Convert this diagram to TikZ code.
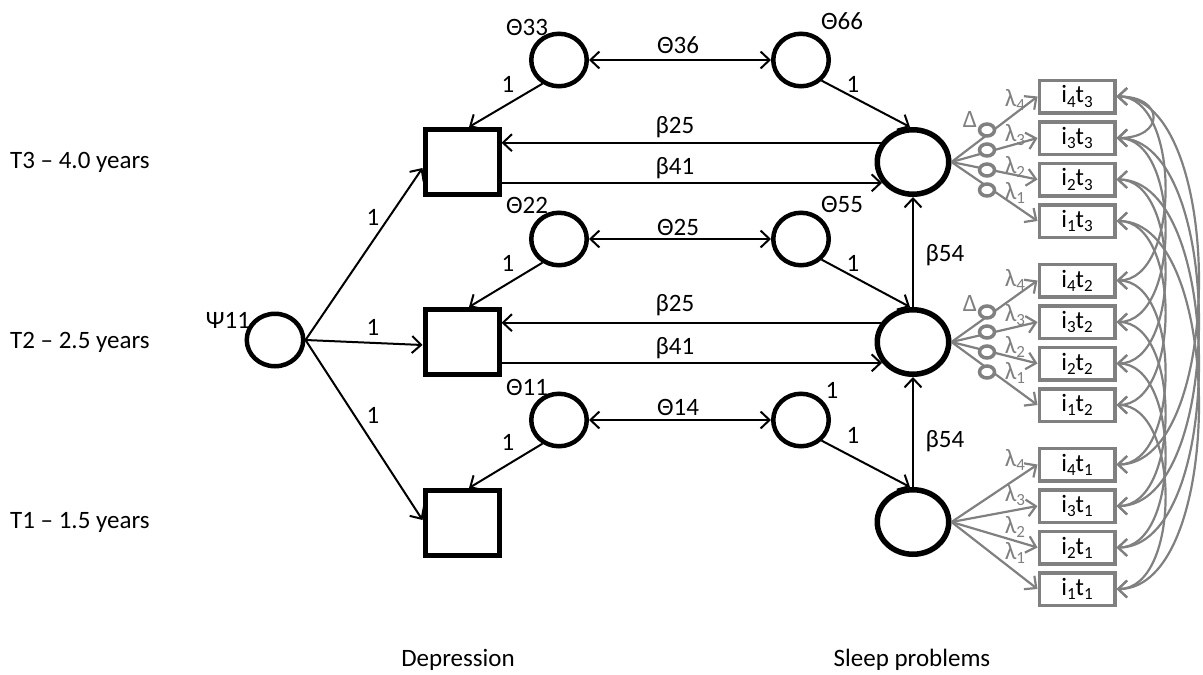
\documentclass[tikz,border=0pt]{standalone}
\usepackage{fontspec}
\setmainfont{Carlito}
\usetikzlibrary{arrows.meta,shapes.geometric,calc}
\newcommand\lowsub[1]{\raisebox{-0.35ex}{\fontsize{17}{17}\selectfont #1}}
\definecolor{ig}{RGB}{128,128,128}
\begin{document}
\begin{tikzpicture}[x=1pt,y=-1pt,
  font=\fontsize{25}{29}\selectfont,
  >={Straight Barb[length=9pt,width=17pt]},
  every node/.style={inner sep=0pt},
  obs/.style={draw, line width=5pt, minimum width=74pt, minimum height=65pt},
  lat/.style={draw, ellipse, line width=5.5pt, minimum width=71.5pt, minimum height=64.5pt},
  res/.style={draw, ellipse, line width=4.5pt, minimum width=55.5pt, minimum height=52.5pt},
  item/.style={draw=ig, line width=3.5pt, minimum width=75.5pt, minimum height=32.5pt, text=black},
  ring/.style={draw=ig, fill=white, ellipse, line width=3.5pt, minimum width=15pt, minimum height=12pt},
  conn/.style={draw, line width=2pt, ->},
  dconn/.style={draw, line width=2pt, <->},
  gconn/.style={draw=ig, line width=2.2pt, ->},
  garc/.style={draw=ig, line width=2.2pt, <->},
  lab/.style={text=black},
  glab/.style={text=ig}
]
\useasboundingbox (0,0) rectangle (1203,675);

% depression observed
\node[obs] (d3) at (462,162) {};
\node[obs] (d2) at (462,342) {};
\node[obs] (d1) at (462,523) {};
% psi
\node[res, minimum width=56.5pt] (psi) at (275,340) {};
% residuals
\node[res] (e3) at (559,60) {};
\node[res] (e2) at (559,239) {};
\node[res] (e1) at (559,420) {};
\node[res] (z3) at (801,60) {};
\node[res] (z2) at (801,239) {};
\node[res] (z1) at (801,420) {};
% sleep latent
\node[lat] (s3) at (913,162) {};
\node[lat] (s2) at (913,342) {};
\node[lat] (s1) at (913,522) {};

% items
\foreach \t/\b in {3/221,2/405,1/589}{
  \foreach \k in {1,...,4}{
    \node[item] (i\k-\t) at (1077,{\b-(\k-1)*41.5}) {i\lowsub{\k}t\lowsub{\t}};
  }
}

% loadings
\foreach \t in {1,2,3}{
  \foreach \k in {1,...,4}{
    \draw[gconn] (s\t.east) -- (i\k-\t.west);
  }
}
% rings
\foreach \t/\c in {3/160,2/342}{
  \foreach \k in {1,...,4}{
    \node[ring] (r\k-\t) at (987,{\c+30-20*(\k-1)}) {};
  }
}
\node[glab] (delta3) at (970,119) {Δ};
\node[glab] (delta2) at (970,303) {Δ};
% lambda labels
\foreach \t/\c in {3/162,2/342,1/522}{
  \foreach \k/\o in {4/-62,3/-27,2/5,1/31}{
    \node[glab] (lam\k-\t) at (1015,{\c+\o}) {λ\lowsub{\k}};
  }
}

% covariance arcs
\foreach \k in {1,...,4}{
  \draw[garc] (i\k-3.east) to[out=0,in=0,looseness=0.9] (i\k-2.east);
  \draw[garc] (i\k-2.east) to[out=0,in=0,looseness=0.9] (i\k-1.east);
  \draw[garc] (i\k-3.east) to[out=0,in=0,looseness=0.76] (i\k-1.east);
}
\draw[garc] (i4-3.east) to[out=0,in=0,looseness=3] (i3-3.east);

% psi paths
\draw[conn] (psi.east) -- ($(d3.west)+(0,6)$);
\draw[conn] (psi.east) -- ($(d2.west)+(0,3)$);
\draw[conn] (psi.east) -- ($(d1.west)+(0,-3)$);

% residual paths
\foreach \t in {1,2,3}{
  \draw[conn] (e\t.235) -- ($(d\t.north)+(7,0)$);
  \draw[conn] (z\t.-45) -- ($(s\t.north)+(-3,0)$);
  \draw[dconn] (e\t.east) -- (z\t.west);
}
% cross-lagged
\foreach \t in {2,3}{
  \draw[conn] (s\t.149) -- (s\t.149 -| d\t.east);
  \draw[conn] (s\t.214 -| d\t.east) -- (s\t.214);
}
\draw[conn] (s2.north) -- (s3.south);
\draw[conn] (s1.north) -- (s2.south);

% labels
\node[lab] (psil) at (228,320) {Ψ11};
\node[lab] (l1a) at (373,217) {1};
\node[lab] (l1b) at (373,327) {1};
\node[lab] (l1c) at (373,415) {1};
\node[lab] (th33) at (527,27) {Θ33};
\node[lab] (th36) at (678,45) {Θ36};
\node[lab] (th66) at (842,21) {Θ66};
\node[lab] (o3a) at (508,84) {1};
\node[lab] (o3b) at (853,84) {1};
\node[lab] (b25a) at (675,127) {β25};
\node[lab] (b41a) at (675,168) {β41};
\node[lab] (th22) at (527,205) {Θ22};
\node[lab] (th25) at (678,227) {Θ25};
\node[lab] (th55) at (842,204) {Θ55};
\node[lab] (o2a) at (508,263) {1};
\node[lab] (o2b) at (853,263) {1};
\node[lab] (b25b) at (675,305) {β25};
\node[lab] (b41b) at (675,348) {β41};
\node[lab] (th11) at (527,387) {Θ11};
\node[lab] (th14) at (678,407) {Θ14};
\node[lab] (v44) at (832,390) {1};
\node[lab] (o1a) at (508,442) {1};
\node[lab] (o1b) at (853,435) {1};
\node[lab] (b54a) at (945,255) {β54};
\node[lab] (b54b) at (945,441) {β54};
\node[lab, anchor=west] (t3l) at (10,162) {T3 – 4.0 years};
\node[lab, anchor=west] (t2l) at (10,342) {T2 – 2.5 years};
\node[lab, anchor=west] (t1l) at (10,522) {T1 – 1.5 years};
\node[lab] (dep) at (458,660) {Depression};
\node[lab] (slp) at (912,660) {Sleep problems};
\end{tikzpicture}
\end{document}
